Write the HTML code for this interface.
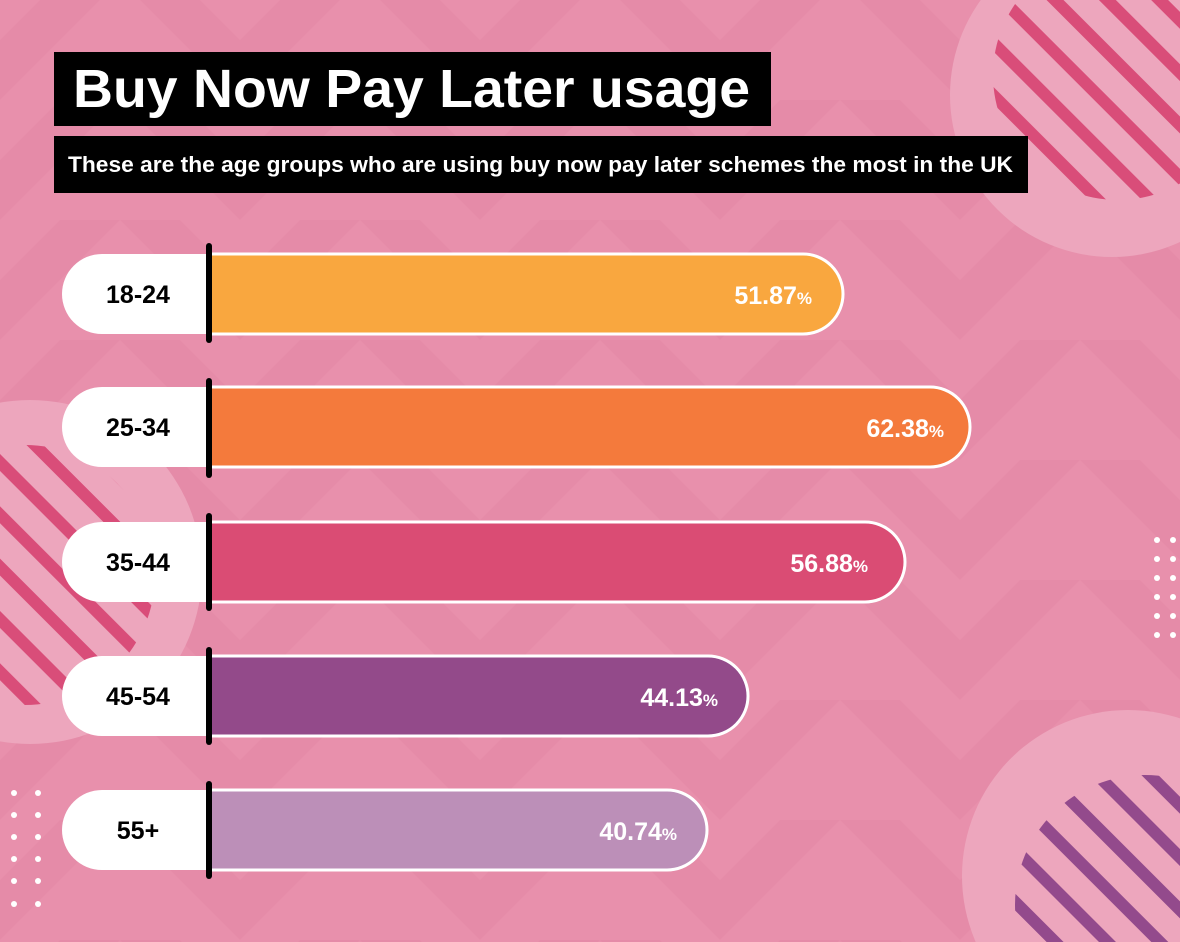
<!DOCTYPE html>
<html><head><meta charset="utf-8"><style>
html,body{margin:0;padding:0;width:1180px;height:942px;overflow:hidden;background:#e68fab}
svg{display:block}
text{font-family:"Liberation Sans",sans-serif;font-weight:bold}
</style></head><body>
<svg width="1180" height="942" viewBox="0 0 1180 942" xmlns="http://www.w3.org/2000/svg">
<defs>
<pattern id="zig" width="240" height="120" patternUnits="userSpaceOnUse" y="-20">
<path d="M0 60 L120 -60 L240 60 L240 120 L120 0 L0 120Z" fill="#e58ba8"/>
</pattern>
<pattern id="sp" width="37" height="37" patternUnits="userSpaceOnUse" patternTransform="rotate(-45)">
<rect x="0" y="0" width="12" height="37" fill="#d94d79"/>
</pattern>
<pattern id="spp" width="37" height="37" patternUnits="userSpaceOnUse" patternTransform="rotate(-45)">
<rect x="0" y="0" width="12" height="37" fill="#934a8c"/>
</pattern>
</defs>
<rect width="1180" height="942" fill="#e890ac"/>
<rect width="1180" height="942" fill="url(#zig)"/>
<circle cx="1112" cy="95" r="162" fill="#eda8bf" opacity="0.9"/>
<circle cx="1118" cy="75" r="125" fill="url(#sp)"/>
<circle cx="30" cy="572" r="172" fill="#eda8bf" opacity="0.9"/>
<circle cx="25" cy="575" r="130" fill="url(#sp)"/>
<circle cx="1128" cy="876" r="166" fill="#eda8bf" opacity="0.9"/>
<circle cx="1145" cy="905" r="130" fill="url(#spp)"/>
<g fill="#fff">
<circle cx="1157" cy="540" r="3"/><circle cx="1173" cy="540" r="3"/>
<circle cx="1157" cy="559" r="3"/><circle cx="1173" cy="559" r="3"/>
<circle cx="1157" cy="578" r="3"/><circle cx="1173" cy="578" r="3"/>
<circle cx="1157" cy="597" r="3"/><circle cx="1173" cy="597" r="3"/>
<circle cx="1157" cy="616" r="3"/><circle cx="1173" cy="616" r="3"/>
<circle cx="1157" cy="635" r="3"/><circle cx="1173" cy="635" r="3"/>
<circle cx="14" cy="793" r="3"/><circle cx="38" cy="793" r="3"/>
<circle cx="14" cy="815" r="3"/><circle cx="38" cy="815" r="3"/>
<circle cx="14" cy="837" r="3"/><circle cx="38" cy="837" r="3"/>
<circle cx="14" cy="859" r="3"/><circle cx="38" cy="859" r="3"/>
<circle cx="14" cy="881" r="3"/><circle cx="38" cy="881" r="3"/>
<circle cx="14" cy="904" r="3"/><circle cx="38" cy="904" r="3"/>
</g>
<rect x="54" y="52" width="717" height="74" fill="#000"/>
<text x="73" y="107" font-size="54" fill="#fff" textLength="677" lengthAdjust="spacingAndGlyphs">Buy Now Pay Later usage</text>
<rect x="54" y="136" width="974" height="57" fill="#000"/>
<text x="68" y="172" font-size="22" fill="#fff" textLength="945" lengthAdjust="spacingAndGlyphs">These are the age groups who are using buy now pay later schemes the most in the UK</text>

<g id="bars">
<path d="M102 254 H212 V334 H102 A40 40 0 0 1 102 254Z" fill="#fff"/>
<path d="M210 254 H803 A40 40 0 0 1 803 334 H210Z" fill="#f9a73f" stroke="#fff" stroke-width="3"/>
<text x="138" y="303" font-size="25" fill="#000" text-anchor="middle">18-24</text>
<text x="812" y="304" font-size="25" fill="#fff" text-anchor="end">51.87<tspan font-size="17">%</tspan></text>
<rect x="206" y="243" width="6" height="100" rx="3" fill="#000"/>

<path d="M102 387 H212 V467 H102 A40 40 0 0 1 102 387Z" fill="#fff"/>
<path d="M210 387 H930 A40 40 0 0 1 930 467 H210Z" fill="#f47a3c" stroke="#fff" stroke-width="3"/>
<text x="138" y="436" font-size="25" fill="#000" text-anchor="middle">25-34</text>
<text x="944" y="437" font-size="25" fill="#fff" text-anchor="end">62.38<tspan font-size="17">%</tspan></text>
<rect x="206" y="378" width="6" height="100" rx="3" fill="#000"/>

<path d="M102 522 H212 V602 H102 A40 40 0 0 1 102 522Z" fill="#fff"/>
<path d="M210 522 H865 A40 40 0 0 1 865 602 H210Z" fill="#da4c74" stroke="#fff" stroke-width="3"/>
<text x="138" y="571" font-size="25" fill="#000" text-anchor="middle">35-44</text>
<text x="868" y="572" font-size="25" fill="#fff" text-anchor="end">56.88<tspan font-size="17">%</tspan></text>
<rect x="206" y="513" width="6" height="98" rx="3" fill="#000"/>

<path d="M102 656 H212 V736 H102 A40 40 0 0 1 102 656Z" fill="#fff"/>
<path d="M210 656 H708 A40 40 0 0 1 708 736 H210Z" fill="#934a8a" stroke="#fff" stroke-width="3"/>
<text x="138" y="705" font-size="25" fill="#000" text-anchor="middle">45-54</text>
<text x="718" y="706" font-size="25" fill="#fff" text-anchor="end">44.13<tspan font-size="17">%</tspan></text>
<rect x="206" y="647" width="6" height="98" rx="3" fill="#000"/>

<path d="M102 790 H212 V870 H102 A40 40 0 0 1 102 790Z" fill="#fff"/>
<path d="M210 790 H667 A40 40 0 0 1 667 870 H210Z" fill="#bc8fb8" stroke="#fff" stroke-width="3"/>
<text x="138" y="839" font-size="25" fill="#000" text-anchor="middle">55+</text>
<text x="677" y="840" font-size="25" fill="#fff" text-anchor="end">40.74<tspan font-size="17">%</tspan></text>
<rect x="206" y="781" width="6" height="98" rx="3" fill="#000"/>
</g>
</svg>
</body></html>
